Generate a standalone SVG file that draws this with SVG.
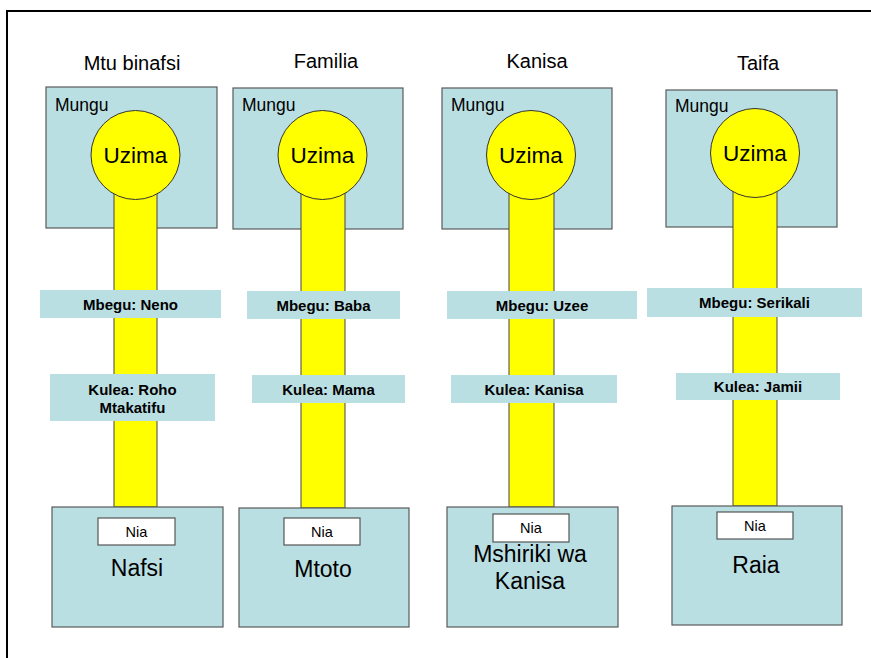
<svg xmlns="http://www.w3.org/2000/svg" width="871" height="658" viewBox="0 0 871 658">
<style>
.box{fill:#badfe3;stroke:#5a5a5a;stroke-width:1.2}
.band{fill:#badfe3;stroke:none}
.stem{fill:#ffff00;stroke:#444;stroke-width:1}
.circ{fill:#ffff00;stroke:#333;stroke-width:1}
.nia{fill:#ffffff;stroke:#555;stroke-width:1.2}
text{font-family:"Liberation Sans",Arial,sans-serif;fill:#000}
.title{font-size:20px;text-anchor:middle}
.mungu{font-size:17.5px}
.uzima{font-size:22.5px;text-anchor:middle}
.bandt{font-size:15px;font-weight:bold;text-anchor:middle}
.niat{font-size:14.5px;text-anchor:middle}
.big{font-size:23px;text-anchor:middle}
</style>
<rect x="0" y="0" width="871" height="658" fill="#ffffff"/>
<rect x="7" y="11" width="900" height="700" fill="none" stroke="#000" stroke-width="2"/>

<g id="col1">
<text class="title" x="132" y="70">Mtu binafsi</text>
<g id="mungu1"><rect class="box" x="46" y="87" width="171" height="141"/><text class="mungu" x="55" y="111">Mungu</text></g>
<rect class="stem" x="114" y="155" width="43" height="352"/>
<g id="uzima1"><circle class="circ" cx="135.5" cy="155" r="44.5"/><text class="uzima" x="135.5" y="163">Uzima</text></g>
<g id="mbegu1"><rect class="band" x="40" y="290" width="181" height="28"/><text class="bandt" x="130.5" y="310">Mbegu: Neno</text></g>
<g id="kulea1"><rect class="band" x="50" y="374" width="165" height="47"/><text class="bandt" x="132.5" y="395">Kulea: Roho</text><text class="bandt" x="132.5" y="413">Mtakatifu</text></g>
<g id="nafsi1"><rect class="box" x="52" y="507" width="171" height="120"/><text class="big" x="137" y="576">Nafsi</text></g>
<g id="nia1"><rect class="nia" x="98" y="518" width="77" height="27"/><text class="niat" x="136.5" y="537">Nia</text></g>
</g>

<g id="col2">
<text class="title" x="326" y="68">Familia</text>
<g id="mungu2"><rect class="box" x="233" y="88" width="170" height="141"/><text class="mungu" x="242" y="111">Mungu</text></g>
<rect class="stem" x="301" y="155" width="44" height="353"/>
<g id="uzima2"><circle class="circ" cx="322.5" cy="155" r="44.5"/><text class="uzima" x="322.5" y="163">Uzima</text></g>
<g id="mbegu2"><rect class="band" x="247" y="291" width="153" height="28"/><text class="bandt" x="323.5" y="311">Mbegu: Baba</text></g>
<g id="kulea2"><rect class="band" x="252" y="375" width="153" height="28"/><text class="bandt" x="328.5" y="395">Kulea: Mama</text></g>
<g id="mtoto2"><rect class="box" x="239" y="508" width="170" height="119"/><text class="big" x="323" y="577">Mtoto</text></g>
<g id="nia2"><rect class="nia" x="284" y="518" width="76" height="27"/><text class="niat" x="322" y="537">Nia</text></g>
</g>

<g id="col3">
<text class="title" x="537" y="68">Kanisa</text>
<g id="mungu3"><rect class="box" x="442" y="88" width="170" height="141"/><text class="mungu" x="451" y="111">Mungu</text></g>
<rect class="stem" x="509" y="155" width="45" height="352"/>
<g id="uzima3"><circle class="circ" cx="531" cy="155" r="44.5"/><text class="uzima" x="531" y="163">Uzima</text></g>
<g id="mbegu3"><rect class="band" x="447" y="291" width="190" height="28"/><text class="bandt" x="542" y="311">Mbegu: Uzee</text></g>
<g id="kulea3"><rect class="band" x="451" y="375" width="166" height="28"/><text class="bandt" x="534" y="395">Kulea: Kanisa</text></g>
<g id="mshiriki3"><rect class="box" x="447" y="507" width="171" height="120"/><text class="big" x="530" y="562">Mshiriki wa</text><text class="big" x="530" y="589">Kanisa</text></g>
<g id="nia3"><rect class="nia" x="493" y="514" width="76" height="28"/><text class="niat" x="531" y="533">Nia</text></g>
</g>

<g id="col4">
<text class="title" x="758" y="70">Taifa</text>
<g id="mungu4"><rect class="box" x="666" y="90" width="171" height="137"/><text class="mungu" x="675" y="112">Mungu</text></g>
<rect class="stem" x="733" y="153" width="44" height="353"/>
<g id="uzima4"><circle class="circ" cx="755" cy="153" r="44.5"/><text class="uzima" x="755" y="161">Uzima</text></g>
<g id="mbegu4"><rect class="band" x="647" y="288" width="215" height="29"/><text class="bandt" x="754.5" y="308">Mbegu: Serikali</text></g>
<g id="kulea4"><rect class="band" x="676" y="373" width="164" height="27"/><text class="bandt" x="758" y="392">Kulea: Jamii</text></g>
<g id="raia4"><rect class="box" x="672" y="506" width="170" height="119"/><text class="big" x="756" y="573">Raia</text></g>
<g id="nia4"><rect class="nia" x="717" y="512" width="76" height="27"/><text class="niat" x="755" y="531">Nia</text></g>
</g>
<g id="connectors"></g>
</svg>
